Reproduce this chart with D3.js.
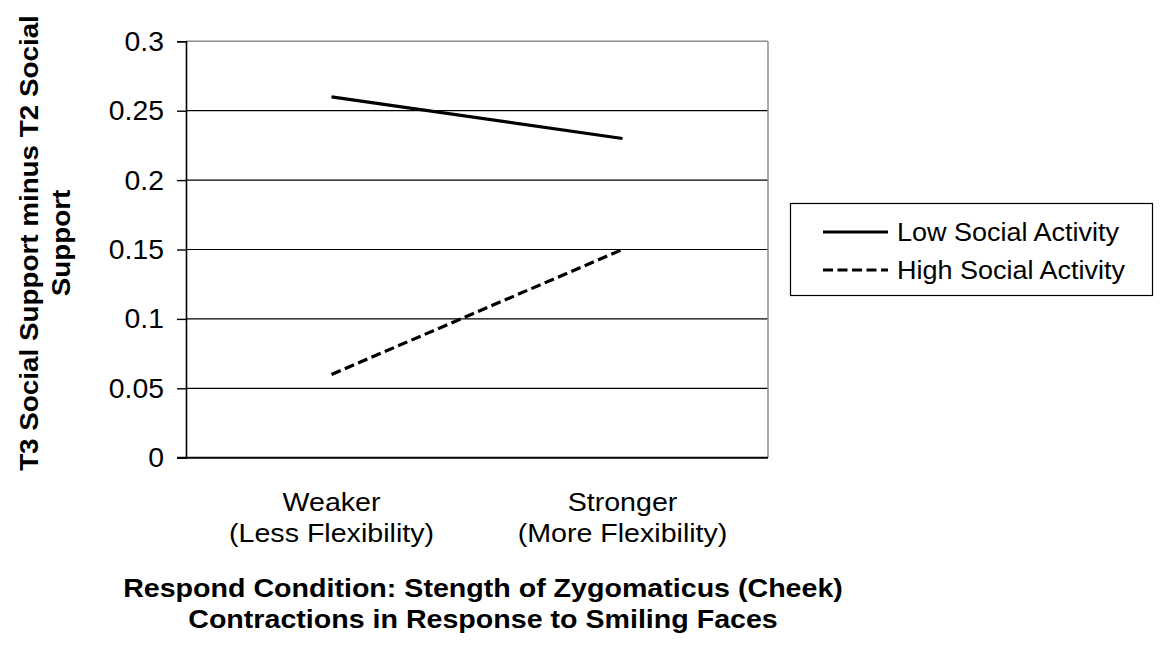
<!DOCTYPE html>
<html>
<head>
<meta charset="utf-8">
<script src="https://cdn.jsdelivr.net/npm/d3@7"></script>
<style>
  html, body { margin: 0; padding: 0; background: #fff; }
  svg { display: block; }
  text { font-family: "Liberation Sans", Arial, sans-serif; fill: #000; }
</style>
</head>
<body>
<svg id="chart" width="1164" height="650"></svg>
<script>
// ---- data ----
const categories = [["Weaker", "(Less Flexibility)"], ["Stronger", "(More Flexibility)"]];
const seriesNames = ["Low Social Activity", "High Social Activity"];
const lowValues = [0.26, 0.23];
const highValues = [0.06, 0.15];
const yTicks = [0, 0.05, 0.1, 0.15, 0.2, 0.25, 0.3];
const yTickLabels = ["0", "0.05", "0.1", "0.15", "0.2", "0.25", "0.3"];
const yTitle = ["T3 Social Support minus T2 Social", "Support"];
const xTitle = ["Respond Condition: Stength of Zygomaticus (Cheek)", "Contractions in Response to Smiling Faces"];

// ---- layout ----
const svg = d3.select("#chart");
const plot = { left: 186, right: 768, top: 41.3, bottom: 457.7 };

const catKeys = categories.map(c => c[0]);
const x = d3.scaleBand().domain(catKeys).range([plot.left, plot.right]);
const y = d3.scaleLinear().domain([0, 0.3]).range([plot.bottom, plot.top]);
const cx = k => x(k) + x.bandwidth() / 2;

function addText(g, str, tx, ty, opts = {}) {
  const anchor = opts.anchor || "middle";
  const rot = opts.rotate || 0;
  const sx = opts.sx || 1.1;
  return g.append("text")
    .attr("transform", `translate(${tx},${ty}) rotate(${rot}) scale(${sx},1)`)
    .attr("text-anchor", anchor)
    .attr("font-size", opts.size || 26)
    .attr("font-weight", opts.bold ? "bold" : "normal")
    .attr("dy", opts.dy || 0)
    .text(str);
}

// gridlines
const grid = svg.append("g");
grid.selectAll("line.grid")
  .data(yTicks.filter(t => t > 0 && t < 0.3))
  .join("line")
  .attr("x1", plot.left).attr("x2", plot.right)
  .attr("y1", d => y(d)).attr("y2", d => y(d))
  .attr("stroke", "#000").attr("stroke-width", 1.2);

// plot border (top & right, gray)
svg.append("line").attr("x1", plot.left).attr("x2", plot.right)
  .attr("y1", y(0.3)).attr("y2", y(0.3)).attr("stroke", "#8c8c8c").attr("stroke-width", 1.5);
svg.append("line").attr("x1", plot.right).attr("x2", plot.right)
  .attr("y1", y(0.3)).attr("y2", y(0)).attr("stroke", "#8c8c8c").attr("stroke-width", 1.5);

// y axis
const yAxis = d3.axisLeft(y).tickValues(yTicks).tickSize(9).tickFormat("");
const yg = svg.append("g").attr("transform", `translate(${plot.left},0)`).call(yAxis);
yg.select(".domain").attr("stroke", "#000").attr("stroke-width", 1.6);
yg.selectAll(".tick line").attr("stroke", "#000").attr("stroke-width", 1.4);

// x axis line
svg.append("line").attr("x1", plot.left - 9).attr("x2", plot.right)
  .attr("y1", y(0)).attr("y2", y(0)).attr("stroke", "#000").attr("stroke-width", 2);

// y tick labels
const tl = svg.append("g");
yTicks.forEach((t, i) => addText(tl, yTickLabels[i], 164, y(t), { anchor: "end", dy: "0.35em", size: 27, sx: 1.05 }));

// x category labels
const xl = svg.append("g");
categories.forEach(c => {
  addText(xl, c[0], cx(c[0]), 511);
  addText(xl, c[1], cx(c[0]), 542);
});

// lines
const line = d3.line().x((d, i) => cx(catKeys[i])).y(d => y(d));
svg.append("path").datum(lowValues).attr("d", line)
  .attr("fill", "none").attr("stroke", "#000").attr("stroke-width", 3.2);
svg.append("path").datum(highValues).attr("d", line)
  .attr("fill", "none").attr("stroke", "#000").attr("stroke-width", 3.2)
  .attr("stroke-dasharray", "10,4.5");

// legend
const lg = svg.append("g");
lg.append("rect").attr("x", 790.5).attr("y", 203.5).attr("width", 362).attr("height", 92)
  .attr("fill", "#fff").attr("stroke", "#000").attr("stroke-width", 1.2);
const legendRows = [232, 270];
seriesNames.forEach((n, i) => {
  lg.append("line").attr("x1", 823).attr("x2", 888)
    .attr("y1", legendRows[i]).attr("y2", legendRows[i])
    .attr("stroke", "#000").attr("stroke-width", 3)
    .attr("stroke-dasharray", i === 1 ? "10,4.5" : null);
  addText(lg, n, 897, legendRows[i], { anchor: "start", dy: "0.35em", size: 25, sx: 1.08 });
});

// axis titles
const at = svg.append("g");
addText(at, yTitle[0], 38, 243, { rotate: -90, bold: true, size: 26, sx: 1.07 });
addText(at, yTitle[1], 70, 243, { rotate: -90, bold: true, size: 26, sx: 1.07 });
addText(at, xTitle[0], 483, 597, { bold: true, size: 26, sx: 1.1 });
addText(at, xTitle[1], 483, 628, { bold: true, size: 26, sx: 1.1 });
</script>
</body>
</html>
